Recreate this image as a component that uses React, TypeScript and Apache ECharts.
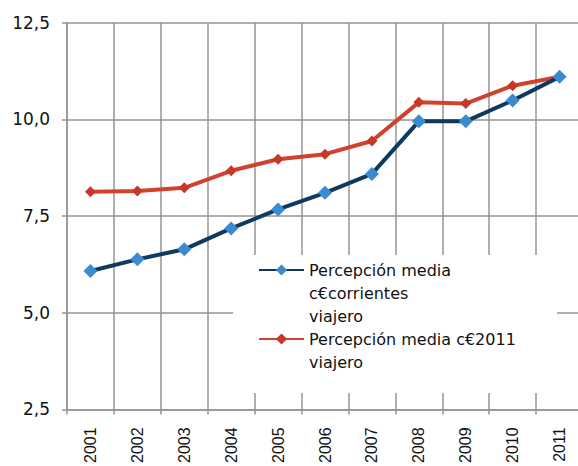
import React, { useEffect, useRef } from "react";
import * as echarts from "echarts";

const years = ["2001", "2002", "2003", "2004", "2005", "2006", "2007", "2008", "2009", "2010", "2011"];
const corrientes = [6.08, 6.38, 6.64, 7.18, 7.67, 8.1, 8.59, 9.95, 9.95, 10.49, 11.1];
const constantes2011 = [8.13, 8.15, 8.23, 8.67, 8.97, 9.1, 9.44, 10.44, 10.41, 10.87, 11.1];
const nameA = "Percepción media c€corrientes viajero";
const nameB = "Percepción media c€2011 viajero";
const labelA = "\n\nPercepción media\nc€corrientes\nviajero";
const labelB = "\nPercepción media c€2011\nviajero";

export default function App() {
  const ref = useRef<HTMLDivElement>(null);
  useEffect(() => {
    if (!ref.current) return;
    const chart = echarts.init(ref.current, null, { renderer: "svg" });
    const gridColor = "#959595";
    const legendText = {
      fontFamily: "DejaVu Sans",
      fontSize: 16,
      lineHeight: 23,
      color: "#111111",
    };
    chart.setOption({
      animation: false,
      backgroundColor: "#ffffff",
      grid: { left: 67, right: 7, top: 22.7, bottom: 53.7, containLabel: false },
      xAxis: {
        type: "category",
        data: years,
        boundaryGap: true,
        axisLine: { show: true, lineStyle: { color: gridColor, width: 1.5 } },
        axisTick: { show: true, length: 5, lineStyle: { color: gridColor, width: 1.5 } },
        splitLine: { show: true, lineStyle: { color: gridColor, width: 1.5 } },
        axisLabel: {
          rotate: 90,
          margin: 18,
          fontFamily: "Liberation Sans",
          fontSize: 16,
          color: "#111111",
          interval: 0,
        },
      },
      yAxis: {
        type: "value",
        min: 2.5,
        max: 12.5,
        interval: 2.5,
        axisLine: { show: true, lineStyle: { color: gridColor, width: 1.5 } },
        axisTick: { show: true, length: 5, lineStyle: { color: gridColor, width: 1.5 } },
        splitLine: { show: true, lineStyle: { color: gridColor, width: 1.5 } },
        axisLabel: {
          margin: 17,
          fontFamily: "DejaVu Sans",
          fontSize: 17,
          color: "#111111",
          formatter: (v: number) => v.toFixed(1).replace(".", ","),
        },
      },
      graphic: [
        {
          type: "rect",
          z: 3,
          shape: { x: 233, y: 255, width: 324, height: 138 },
          style: { fill: "#ffffff" },
        },
      ],
      legend: [
        {
          data: [nameA],
          left: 258,
          top: 212.5,
          padding: 0,
          itemWidth: 45,
          itemHeight: 14,
          formatter: () => labelA,
          textStyle: legendText,
          selectedMode: false,
        },
        {
          data: [nameB],
          left: 258,
          top: 304.5,
          padding: 0,
          itemWidth: 45,
          itemHeight: 14,
          formatter: () => labelB,
          textStyle: legendText,
          selectedMode: false,
        },
      ],
      series: [
        {
          name: nameB,
          type: "line",
          data: constantes2011,
          symbol: "diamond",
          symbolSize: 11,
          lineStyle: { color: "#d2412e", width: 4 },
          itemStyle: { color: "#c8372a" },
          z: 2,
        },
        {
          name: nameA,
          type: "line",
          data: corrientes,
          symbol: "diamond",
          symbolSize: 14,
          lineStyle: { color: "#0f3a60", width: 4 },
          itemStyle: { color: "#3a8bd0" },
          z: 2,
        },
      ],
    });
    return () => chart.dispose();
  }, []);
  return (
    <div
      style={{ position: "absolute", left: 0, top: 0, width: 578, height: 466, overflow: "hidden" }}
    >
      <div ref={ref} style={{ width: 590, height: 466 }} />
    </div>
  );
}
